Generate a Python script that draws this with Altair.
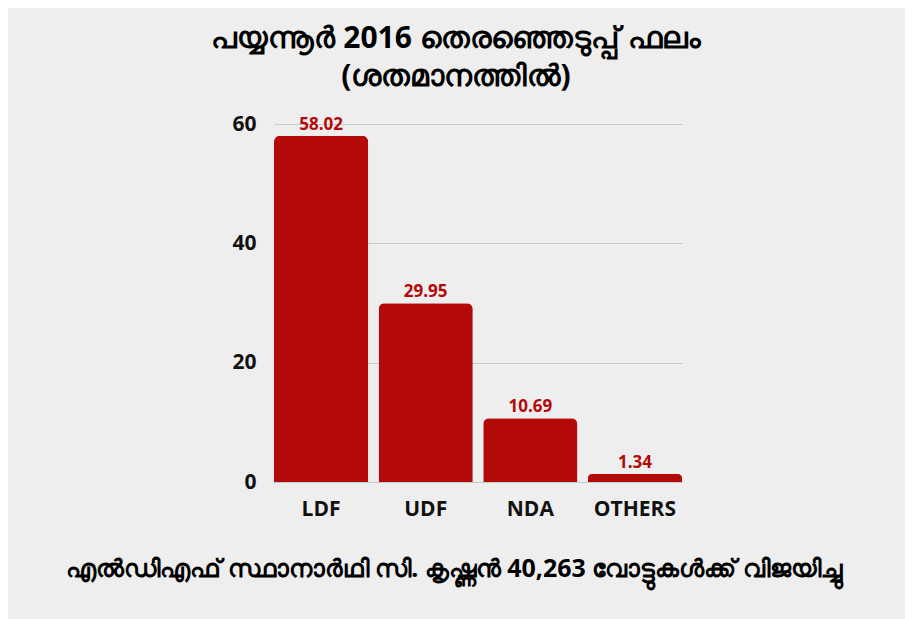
import altair as alt
import pandas as pd

parties = ["LDF", "UDF", "NDA", "OTHERS"]
shares = [58.02, 29.95, 10.69, 1.34]
y_ticks = [0, 20, 40, 60]
title_lines = ["പയ്യന്നൂർ 2016 തെരഞ്ഞെടുപ്പ് ഫലം", "(ശതമാനത്തിൽ)"]
footer = "എൽഡിഎഫ് സ്ഥാനാർഥി സി. കൃഷ്ണൻ 40,263 വോട്ടുകൾക്ക് വിജയിച്ചു"

df = pd.DataFrame({"party": parties, "share": shares,
                   "label": [f"{v:.2f}" for v in shares]})

FONT = "Noto Sans"
RED = "#b30909"

x = alt.X("party:N", sort=parties, title=None,
          scale=alt.Scale(paddingInner=0.1, paddingOuter=0),
          axis=alt.Axis(labelAngle=0, labelFontSize=21, labelFontWeight="bold",
                        labelColor="#111111", labelFont="Open Sans", labelPadding=16,
                        ticks=False, domain=True, domainColor="#c8c8c8"))
y = alt.Y("share:Q", title=None,
          scale=alt.Scale(domain=[0, 60], nice=False),
          axis=alt.Axis(values=y_ticks, labelFontSize=21, labelFontWeight="bold",
                        labelColor="#111111", labelFont="Open Sans", labelPadding=18,
                        ticks=False, domain=False, gridColor="#c8c8c8", gridWidth=1))

base = alt.Chart(df)
bars = base.mark_bar(color=RED, cornerRadiusTopLeft=6, cornerRadiusTopRight=6).encode(x=x, y=y)
labels = base.mark_text(dy=-11, color=RED, fontSize=17, fontWeight="bold",
                        font="Open Sans").encode(x=x, y=y, text="label:N")
foot = alt.Chart(pd.DataFrame({"t": [footer]})).mark_text(
    fontSize=25, fontWeight="bold", font=FONT, color="#000000", align="center"
).encode(x=alt.value(180), y=alt.value(445), text="t:N")

chart = alt.layer(bars, labels, foot).properties(
    width=408, height=358,
    autosize=alt.AutoSizeParams(type="none"),
    padding={"left": 266, "top": 116, "right": 223, "bottom": 137},
    background="#eeeeee",
    title=alt.TitleParams(text=title_lines, anchor="middle", dx=-22, offset=21,
                          fontSize=30, fontWeight="bold", font=FONT, color="#000000",
                          lineHeight=38),
).configure_view(stroke=None)

chart.save("out.html", embed_options={"renderer": "svg", "actions": False})
